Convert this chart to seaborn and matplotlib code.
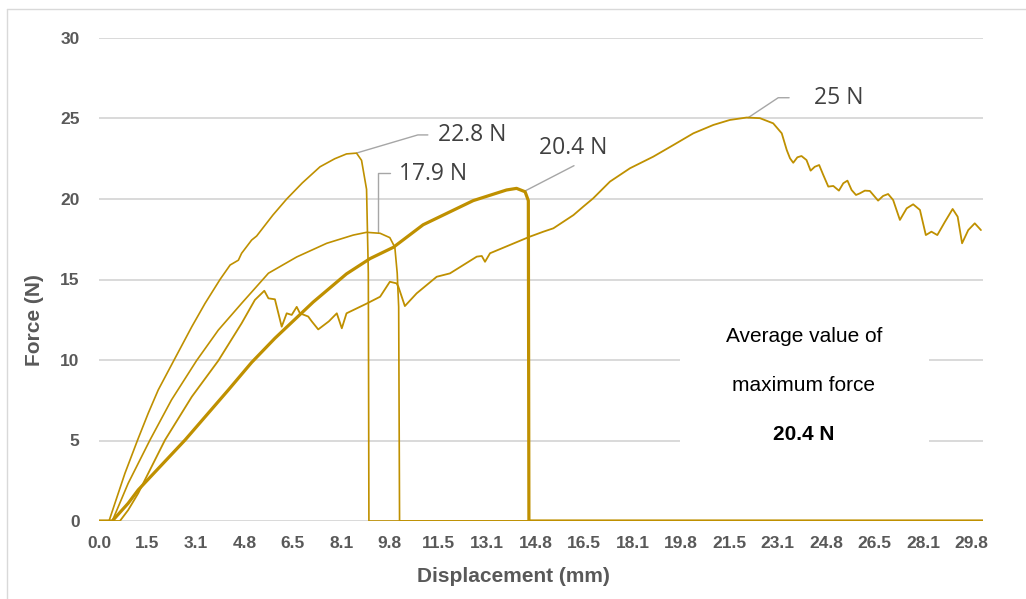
import matplotlib
matplotlib.use("Agg")
import matplotlib.pyplot as plt
from matplotlib.lines import Line2D
from matplotlib.patches import Rectangle
import seaborn as sns
import pandas as pd

# ---------------- data (displacement in mm, force in N) ----------------
x_a = [0, 0.34, 0.54, 0.88, 1.31, 1.67, 2.01, 2.56, 3.15, 3.6, 4.11, 4.45, 4.73, 4.84, 5.18, 5.35,
       5.9, 6.37, 6.9, 7.5, 8.0, 8.4, 8.74, 8.91, 9.08, 9.14, 9.16, 30]
f_a = [0, 0, 1.1, 2.96, 5.03, 6.69, 8.14, 10.04, 12.07, 13.52, 15.01, 15.9, 16.2, 16.63, 17.45, 17.7,
       19.0, 20.0, 21.0, 22.0, 22.5, 22.8, 22.85, 22.4, 20.6, 15.4, 0, 0]

x_b = [0, 0.45, 0.99, 1.73, 2.46, 3.31, 4.05, 4.84, 5.75, 6.71, 7.73, 8.63, 9.08,
       9.54, 9.87, 10.04, 10.12, 10.17, 10.2, 30]
f_b = [0, 0, 2.34, 5.03, 7.52, 9.96, 11.86, 13.52, 15.39, 16.4, 17.25, 17.76, 17.93,
       17.87, 17.6, 17.0, 15.4, 13.3, 0, 0]

x_c = [0, 0.45, 0.99, 1.33, 2.92, 4.39, 5.18, 5.97, 7.27, 8.4, 9.2, 9.99, 11.0, 12.7, 13.83,
       14.17, 14.46, 14.57, 14.59, 30]
f_c = [0, 0, 1.1, 1.93, 5.03, 8.14, 9.85, 11.35, 13.6, 15.35, 16.3, 17.0, 18.4, 19.9, 20.56,
       20.66, 20.45, 19.9, 0, 0]

x_d = [0, 0.71, 0.99, 1.33, 2.24, 3.15, 4.05, 4.84, 5.29, 5.61, 5.75, 5.97, 6.2, 6.37, 6.54, 6.71,
       6.82, 7.1, 7.22, 7.44, 7.8, 8.07, 8.24, 8.4, 9.08, 9.54, 9.87, 10.1, 10.16, 10.38, 10.78,
       11.46, 11.91, 12.82, 12.99, 13.1, 13.27, 14.62, 15.08, 15.42, 15.76, 16.1, 16.43, 16.77,
       17.34, 18.02, 18.81, 19.49, 20.17, 20.85, 21.41, 21.98, 22.43, 22.88, 23.17, 23.34, 23.45,
       23.56, 23.7, 23.84, 24.01, 24.15, 24.29, 24.44, 24.58, 24.75, 24.92, 25.11, 25.26, 25.4,
       25.54, 25.69, 25.82, 25.99, 26.16, 26.44, 26.61, 26.78, 26.95, 27.18, 27.41, 27.63, 27.86,
       28.06, 28.25, 28.45, 28.71, 28.97, 29.14, 29.29, 29.5, 29.72, 29.93]
f_d = [0, 0, 0.68, 1.72, 5.03, 7.72, 9.96, 12.28, 13.73, 14.3, 13.83, 13.77, 12.07, 12.9, 12.8, 13.3,
       12.9, 12.7, 12.4, 11.9, 12.4, 12.9, 11.97, 12.9, 13.5, 13.93, 14.86, 14.76, 14.55, 13.35, 14.14,
       15.17, 15.38, 16.42, 16.46, 16.1, 16.63, 17.66, 17.97, 18.18, 18.59, 19.0, 19.52, 20.04,
       21.08, 21.91, 22.63, 23.35, 24.08, 24.6, 24.91, 25.06, 25.02, 24.7, 24.08, 23.04, 22.53,
       22.25, 22.59, 22.67, 22.42, 21.76, 22.0, 22.11, 21.49, 20.77, 20.81, 20.52, 20.98, 21.14,
       20.56, 20.25, 20.35, 20.52, 20.5, 19.9, 20.19, 20.31, 19.94, 18.7, 19.42, 19.67, 19.32,
       17.76, 17.97, 17.76, 18.59, 19.38, 18.9, 17.25, 18.07, 18.49, 18.07]

peak_labels = ["22.8 N", "17.9 N", "20.4 N", "25 N"]
x_tick_labels = ["0.0", "1.5", "3.1", "4.8", "6.5", "8.1", "9.8", "11.5", "13.1", "14.8", "16.5",
                 "18.1", "19.8", "21.5", "23.1", "24.8", "26.5", "28.1", "29.8"]
y_ticks = [0, 5, 10, 15, 20, 25, 30]
avg_lines = ["Average value of", "maximum force", "20.4 N"]

# ---------------- figure ----------------
sns.set_theme(style="white")
plt.rcParams["font.family"] = ["Liberation Sans", "DejaVu Sans"]

W, H = 1026, 599
fig = plt.figure(figsize=(W / 100, H / 100), dpi=100)
ax = fig.add_axes([99 / W, 1 - 521 / H, (983 - 99) / W, (521 - 38) / H])

gold = "#BF9000"
curves = [(x_a, f_a, 1.2), (x_b, f_b, 1.2), (x_c, f_c, 2.3), (x_d, f_d, 1.3)]
for xs, fs, lw in curves:
    df = pd.DataFrame({"x": xs, "f": fs})
    sns.lineplot(data=df, x="x", y="f", sort=False, estimator=None, color=gold,
                 linewidth=lw, ax=ax, zorder=3)

ax.set_xlim(0, 30)
ax.set_ylim(0, 30)
ax.set_axisbelow(True)
ax.grid(axis="y", color="#D9D9D9", linewidth=1.4)
ax.grid(axis="x", visible=False)
for s in ax.spines.values():
    s.set_visible(False)

step = 29.62 / (len(x_tick_labels) - 1)
ax.set_xticks([i * step for i in range(len(x_tick_labels))])
ax.set_xticklabels(x_tick_labels)
ax.set_yticks(y_ticks)
ax.set_yticklabels([str(v) for v in y_ticks])
ax.tick_params(axis="both", length=0, labelsize=12.5, labelcolor="#595959")
ax.tick_params(axis="x", pad=11)
ax.tick_params(axis="y", pad=14)
for lab in ax.get_xticklabels() + ax.get_yticklabels():
    lab.set_fontweight("bold")
ax.set_xlabel("")
ax.set_ylabel("")

fig.text(513 / W, 1 - 577 / H, "Displacement (mm)", ha="center", va="center",
         fontsize=15, fontweight="bold", color="#595959")
fig.text(35 / W, 1 - 320 / H, "Force (N)", ha="center", va="center", rotation=90,
         fontsize=15, fontweight="bold", color="#595959")

# average box
ax.add_patch(Rectangle((19.72, 3.17), 8.44, 10.53, facecolor="white", edgecolor="none", zorder=1))
ax.text(23.92, 11.43, avg_lines[0], ha="center", va="center", fontsize=15, color="black", zorder=4)
ax.text(23.92, 8.39, avg_lines[1], ha="center", va="center", fontsize=15, color="black", zorder=4)
ax.text(23.92, 5.40, avg_lines[2], ha="center", va="center", fontsize=15, fontweight="bold",
        color="black", zorder=4)

# peak annotations with leader lines
lead = dict(color="#A6A6A6", linewidth=1.0, zorder=2)
ann_font = dict(fontsize=16.5, color="#404040", family=["Open Sans", "DejaVu Sans"], va="center",
                ha="left", zorder=4)
ax.plot([8.75, 10.82, 11.16], [22.86, 23.98, 23.98], **lead)
ax.text(11.5, 23.98, peak_labels[0], **ann_font)
ax.plot([9.46, 9.46, 9.87], [17.97, 21.6, 21.6], **lead)
ax.text(10.19, 21.55, peak_labels[1], **ann_font)
ax.plot([14.46, 16.12], [20.5, 22.07], **lead)
ax.text(14.93, 23.15, peak_labels[2], **ann_font)
ax.plot([22.03, 23.05, 23.42], [25.05, 26.29, 26.29], **lead)
ax.text(24.27, 26.25, peak_labels[3], **ann_font)

# outer chart border
fig.add_artist(Line2D([6.5 / W, 6.5 / W], [0, 1 - 9 / H], transform=fig.transFigure,
                      color="#D9D9D9", linewidth=1.0))
fig.add_artist(Line2D([6.5 / W, 1], [1 - 9 / H, 1 - 9 / H], transform=fig.transFigure,
                      color="#D9D9D9", linewidth=1.0))

fig.savefig("out.png", dpi=100, facecolor="white")
